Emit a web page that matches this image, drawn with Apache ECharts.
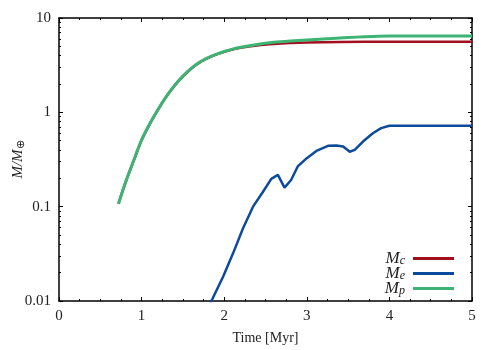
<!DOCTYPE html>
<html>
<head>
<meta charset="utf-8">
<script src="https://cdn.jsdelivr.net/npm/echarts@6/dist/echarts.min.js"></script>
<style>html,body{margin:0;padding:0;background:#fff}#c{width:486px;height:350px}</style>
</head>
<body>
<div id="c"></div>
<script>
const xTicks = [0, 1, 2, 3, 4, 5];
const yTickLabels = ['0.01', '0.1', '1', '10'];
const yMinorTicks = [0.02,0.03,0.04,0.05,0.06,0.07,0.08,0.09,0.2,0.3,0.4,0.5,0.6,0.7,0.8,0.9,2,3,4,5,6,7,8,9];

const mpTime   = [0.72, 0.8, 0.9, 1.0, 1.1, 1.2, 1.3, 1.4, 1.5, 1.6, 1.7, 1.8, 1.9, 2.0, 2.1, 2.2, 2.4, 2.6, 2.8, 3.0, 3.2, 3.4, 3.6, 3.8, 4.0, 4.5, 5.0];
const mpValues = [0.107, 0.176, 0.302, 0.51, 0.76, 1.08, 1.48, 1.93, 2.42, 2.92, 3.39, 3.78, 4.12, 4.42, 4.68, 4.9, 5.25, 5.52, 5.71, 5.86, 6.0, 6.14, 6.27, 6.38, 6.44, 6.44, 6.44];

const mcTime   = [0.72, 0.8, 0.9, 1.0, 1.1, 1.2, 1.3, 1.4, 1.5, 1.6, 1.7, 1.8, 1.9, 2.0, 2.1, 2.2, 2.4, 2.6, 2.8, 3.0, 3.4, 4.0, 5.0];
const mcValues = [0.107, 0.175, 0.30, 0.505, 0.755, 1.07, 1.47, 1.92, 2.4, 2.9, 3.36, 3.75, 4.09, 4.38, 4.63, 4.85, 5.12, 5.3, 5.42, 5.5, 5.57, 5.6, 5.6];

const meTime   = [1.82, 1.845, 1.985, 2.107, 2.228, 2.349, 2.47, 2.57, 2.65, 2.73, 2.81, 2.89, 3.0, 3.116, 3.257, 3.358, 3.44, 3.52, 3.58, 3.68, 3.80, 3.90, 4.0, 5.0];
const meValues = [0.0088, 0.01, 0.018, 0.032, 0.059, 0.1, 0.144, 0.197, 0.217, 0.159, 0.192, 0.267, 0.327, 0.39, 0.442, 0.446, 0.435, 0.382, 0.40, 0.49, 0.60, 0.68, 0.72, 0.72];

const FONT = 'Liberation Serif';
const TXT = '#222';
const pair = (t, v) => t.map((x, i) => [x, v[i]]);

const axisLine = { show: true, lineStyle: { color: '#000', width: 1.5 } };

function xAx(pos, labels) {
  return {
    type: 'value', position: pos, min: 0, max: 5, interval: 1,
    axisLine: axisLine,
    axisTick: { show: true, inside: true, length: 4, lineStyle: { color: '#000', width: 1 } },
    minorTick: { show: true, splitNumber: 4, length: 2, lineStyle: { color: '#000', width: 1 } },
    splitLine: { show: false }, minorSplitLine: { show: false },
    axisLabel: { show: labels, margin: 8, fontFamily: FONT, fontSize: 15, color: TXT },
    name: labels ? 'Time [Myr]' : '', nameLocation: 'middle', nameGap: 30,
    nameTextStyle: { fontFamily: FONT, fontSize: 14, color: TXT }
  };
}
function yAx(pos, major, labels) {
  const a = {
    type: 'log', logBase: 10, position: pos, min: 0.01, max: 10,
    axisLine: major ? axisLine : { show: false },
    axisTick: major
      ? { show: true, inside: true, length: 4, lineStyle: { color: '#000', width: 1 } }
      : { show: true, inside: true, length: 2, customValues: yMinorTicks, lineStyle: { color: '#000', width: 1 } },
    splitLine: { show: false },
    axisLabel: { show: labels, margin: 8, fontFamily: FONT, fontSize: 15, color: TXT,
      formatter: v => { const s = yTickLabels.find(l => Math.abs(parseFloat(l) - v) < 1e-9 * Math.max(1, v)); return s || ''; } }
  };
  if (labels) {
    a.name = '{i|M/M}{s|⊕}';
    a.nameLocation = 'middle';
    a.nameGap = 33;
    a.nameRotate = 90;
    a.nameMoveOverlap = false;
    a.nameTextStyle = { fontFamily: FONT, fontSize: 14, color: TXT,
      rich: { i: { fontFamily: FONT, fontStyle: 'italic', fontSize: 15, color: TXT, lineHeight: 16 },
              s: { fontFamily: FONT, fontSize: 11, color: TXT, lineHeight: 11, padding: [6, 0, 0, 0] } } };
  }
  return a;
}

const chart = echarts.init(document.getElementById('c'), null, { renderer: 'canvas' });
chart.setOption({
  animation: false,
  backgroundColor: '#fff',
  grid: { left: 59, right: 14, top: 18, bottom: 49, containLabel: false, outerBoundsMode: 'none' },
  xAxis: [xAx('bottom', true), xAx('top', false)],
  yAxis: [yAx('left', true, true), yAx('left', false, false), yAx('right', true, false), yAx('right', false, false)],
  legend: {
    orient: 'vertical', right: 27, bottom: 48, align: 'right',
    itemWidth: 41, itemHeight: 3, itemGap: -2, icon: 'rect',
    formatter: n => '{i|M}{s|' + n.slice(2) + '}{g|}',
    textStyle: { fontFamily: FONT, color: TXT,
      rich: { i: { fontFamily: FONT, fontStyle: 'italic', fontSize: 17, color: TXT, lineHeight: 14 },
              s: { fontFamily: FONT, fontStyle: 'italic', fontSize: 12, color: TXT, lineHeight: 9, padding: [5, 0, 0, 0] },
              g: { width: 3 } } },
    data: ['M_c', 'M_e', 'M_p']
  },
  series: [
    { name: 'M_c', type: 'line', data: pair(mcTime, mcValues), smooth: 0.3, showSymbol: false, symbol: 'none', color: '#a0101f', lineStyle: { width: 2.5, color: '#a0101f' } },
    { name: 'M_e', type: 'line', data: pair(meTime, meValues), showSymbol: false, symbol: 'none', color: '#0c4b9c', lineStyle: { width: 2.5, color: '#0c4b9c' } },
    { name: 'M_p', type: 'line', data: pair(mpTime, mpValues), smooth: 0.3, showSymbol: false, symbol: 'none', color: '#3db474', lineStyle: { width: 3, color: '#3db474' } }
  ]
});
</script>
</body>
</html>
